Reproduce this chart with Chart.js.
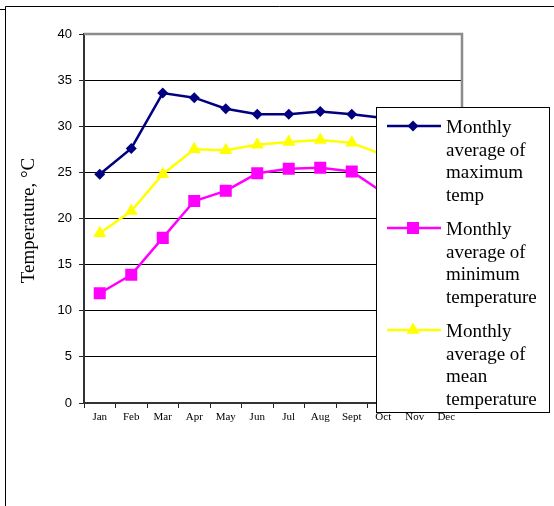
<!DOCTYPE html>
<html>
<head>
<meta charset="utf-8">
<script src="https://cdn.jsdelivr.net/npm/chart.js@4/dist/chart.umd.min.js"></script>
<style>
  html, body { margin: 0; padding: 0; background: #fff; }
  canvas { display: block; }
</style>
</head>
<body>
<canvas id="c" width="554" height="506"></canvas>
<script>
// Monthly temperature averages (°C)
const months = ["Jan", "Feb", "Mar", "Apr", "May", "Jun", "Jul", "Aug", "Sept", "Oct", "Nov", "Dec"];
const maxTemp  = [24.8, 27.6, 33.6, 33.1, 31.9, 31.3, 31.3, 31.6, 31.3, 30.9, 28.5, 25.8];
const minTemp  = [11.9, 13.9, 17.9, 21.9, 23.0, 24.9, 25.4, 25.5, 25.1, 22.8, 18.2, 13.4];
const meanTemp = [18.4, 20.8, 24.8, 27.5, 27.4, 28.0, 28.3, 28.5, 28.2, 26.9, 23.3, 19.6];
const yTicks = [0, 5, 10, 15, 20, 25, 30, 35, 40];

const seriesLabels = [
  ["Monthly", "average of", "maximum", "temp"],
  ["Monthly", "average of", "minimum", "temperature"],
  ["Monthly", "average of", "mean", "temperature"]
];
const seriesColors = ["#000080", "#FF00FF", "#FFFF00"];
const seriesMarkers = ["rectRot", "rect", "triangle"];
const axisTitle = "Temperature, °C";

const PLOT = { left: 84, top: 34, right: 462, bottom: 403 };
const W = 554, H = 506;

function drawMarker(ctx, style, x, y, r, color) {
  ctx.save();
  ctx.fillStyle = color;
  ctx.beginPath();
  if (style === "rectRot") {
    ctx.moveTo(x, y - r); ctx.lineTo(x + r, y); ctx.lineTo(x, y + r); ctx.lineTo(x - r, y);
  } else if (style === "rect") {
    const s = r * Math.SQRT1_2;
    ctx.rect(x - s, y - s, 2 * s, 2 * s);
  } else {
    const h = r * 1.5;
    ctx.moveTo(x, y - r); ctx.lineTo(x + r * 0.866, y + r * 0.5); ctx.lineTo(x - r * 0.866, y + r * 0.5);
  }
  ctx.closePath();
  ctx.fill();
  ctx.restore();
}

const decorations = {
  id: "decorations",
  beforeDraw(chart) {
    const ctx = chart.ctx;
    ctx.save();
    ctx.fillStyle = "#fff";
    ctx.fillRect(0, 0, W, H);
    // outer frame
    ctx.strokeStyle = "#000";
    ctx.lineWidth = 1;
    ctx.beginPath();
    ctx.moveTo(0, 9.5); ctx.lineTo(5.5, 9.5);
    ctx.moveTo(5.5, 6.5); ctx.lineTo(W, 6.5);
    ctx.moveTo(5.5, 6.5); ctx.lineTo(5.5, H);
    ctx.stroke();
    // rotated axis title
    ctx.translate(29, (PLOT.top + PLOT.bottom) / 2 + 2);
    ctx.rotate(-Math.PI / 2);
    ctx.fillStyle = "#000";
    ctx.font = "19px 'Liberation Serif', 'Times New Roman', serif";
    ctx.textAlign = "center";
    ctx.textBaseline = "middle";
    ctx.fillText(axisTitle, 0, 0);
    ctx.restore();
  },
  beforeDatasetsDraw(chart) {
    const ctx = chart.ctx, a = chart.chartArea;
    ctx.save();
    ctx.strokeStyle = "#8c8c8c";
    ctx.lineWidth = 2.5;
    ctx.beginPath();
    ctx.moveTo(a.left, a.top);
    ctx.lineTo(a.right, a.top);
    ctx.lineTo(a.right, a.bottom);
    ctx.stroke();
    ctx.restore();
  },
  afterDraw(chart) {
    const ctx = chart.ctx;
    const box = { x: 376.5, y: 107.5, w: 173, h: 305 };
    ctx.save();
    ctx.fillStyle = "#fff";
    ctx.fillRect(box.x, box.y, box.w, box.h);
    ctx.strokeStyle = "#000";
    ctx.lineWidth = 1;
    ctx.strokeRect(box.x, box.y, box.w, box.h);
    ctx.font = "19px 'Liberation Serif', 'Times New Roman', serif";
    ctx.textBaseline = "alphabetic";
    ctx.textAlign = "left";
    chart.data.datasets.forEach((ds, i) => {
      const ly = 126 + i * 102;
      ctx.strokeStyle = ds.borderColor;
      ctx.lineWidth = 2.5;
      ctx.beginPath();
      ctx.moveTo(387, ly); ctx.lineTo(441, ly);
      ctx.stroke();
      drawMarker(ctx, ds.pointStyle, 413, ly, ds.pointRadius, ds.backgroundColor);
      ctx.fillStyle = "#000";
      seriesLabels[i].forEach((line, k) => {
        ctx.fillText(line, 446, 133 + i * 102 + k * 22.5);
      });
    });
    ctx.restore();
  }
};

const seriesData = [maxTemp, minTemp, meanTemp];
const radii = [5.5, 8.5, 7.5];

new Chart(document.getElementById("c"), {
  type: "line",
  data: {
    labels: months,
    datasets: seriesData.map((d, i) => ({
      label: seriesLabels[i].join(" "),
      data: d,
      borderColor: seriesColors[i],
      backgroundColor: seriesColors[i],
      borderWidth: 2.5,
      pointStyle: seriesMarkers[i],
      pointRadius: radii[i],
      pointHoverRadius: radii[i],
      pointBorderWidth: 0,
      tension: 0,
      fill: false
    }))
  },
  options: {
    responsive: false,
    animation: false,
    devicePixelRatio: 1,
    layout: { padding: { left: 0, top: PLOT.top, right: W - PLOT.right, bottom: 0 } },
    plugins: { legend: { display: false }, tooltip: { enabled: false } },
    scales: {
      x: {
        type: "category",
        offset: true,
        grid: { offset: true, drawOnChartArea: false, drawTicks: true, tickLength: 5, tickColor: "#222", tickWidth: 1 },
        border: { color: "#333", width: 2 },
        ticks: {
          color: "#000",
          padding: 3,
          maxRotation: 0,
          autoSkip: false,
          font: { family: "'Liberation Serif', 'Times New Roman', serif", size: 11 }
        },
        afterFit(scale) { scale.height = H - PLOT.bottom; }
      },
      y: {
        min: 0,
        max: 40,
        afterBuildTicks(scale) { scale.ticks = yTicks.map(v => ({ value: v })); },
        grid: {
          color: ctx => (ctx.tick && ctx.tick.value === 40) ? "rgba(0,0,0,0)" : "#000",
          lineWidth: 1,
          drawTicks: true,
          tickLength: 5,
          tickColor: "#222",
          tickWidth: 1
        },
        border: { color: "#333", width: 2 },
        ticks: {
          color: "#000",
          padding: 7,
          font: { family: "'Liberation Sans', Arial, sans-serif", size: 13 }
        },
        afterFit(scale) { scale.width = PLOT.left; }
      }
    }
  },
  plugins: [decorations]
});
</script>
</body>
</html>
